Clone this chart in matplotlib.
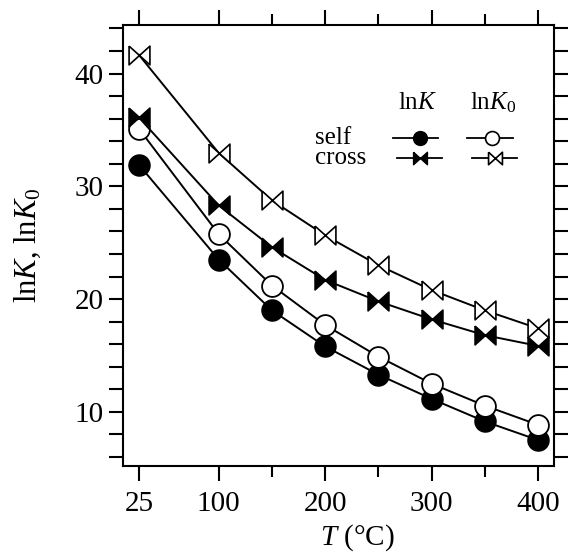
import numpy as np
import matplotlib

matplotlib.use("Agg")
import matplotlib.pyplot as plt
from matplotlib.ticker import FixedLocator, MultipleLocator


# ----------------------------------------------------------------------
# Daten
# ----------------------------------------------------------------------

T = [25, 100, 150, 200, 250, 300, 350, 400]

lnK_self = [31.9, 23.5, 19.0, 15.8, 13.3, 11.15, 9.15, 7.5]
lnK0_self = [35.1, 25.75, 21.2, 17.7, 14.9, 12.5, 10.55, 8.85]
lnK_cross = [36.1, 28.3, 24.6, 21.7, 19.8, 18.2, 16.8, 15.85]
lnK0_cross = [41.65, 32.95, 28.75, 25.65, 23.0, 20.8, 19.0, 17.4]

xticks_major = [25, 100, 200, 300, 400]
xticks_minor = [150, 250, 350]

# Schleifen-Marker (zwei Dreiecke, Spitze an Spitze)
BOWTIE = [(-1, 0.9), (1, -0.9), (1, 0.9), (-1, -0.9), (-1, 0.9)]

plt.rcParams["font.family"] = "Liberation Serif"
plt.rcParams["mathtext.fontset"] = "custom"
plt.rcParams["mathtext.rm"] = "Liberation Serif"
plt.rcParams["mathtext.it"] = "Liberation Serif:italic"

fig = plt.figure(figsize=(5.68, 5.52), dpi=100)
ax = fig.add_axes([0.2165, 0.1558, 0.7588, 0.7989])

lw = 1.4
ms = 15
ax.plot(T, lnK_self, "-o", color="black", lw=lw, ms=ms,
        mfc="black", mec="black", mew=1.2, zorder=3)
ax.plot(T, lnK0_self, "-o", color="black", lw=lw, ms=ms,
        mfc="white", mec="black", mew=1.3, zorder=3)
ax.plot(T, lnK_cross, "-", color="black", lw=lw, marker=BOWTIE,
        ms=ms, mfc="black", mec="black", mew=1.2, zorder=4)
ax.plot(T, lnK0_cross, "-", color="black", lw=lw, marker=BOWTIE,
        ms=ms, mfc="white", mec="black", mew=1.2, zorder=4)

ax.set_xlim(10, 415)
ax.set_ylim(5.2, 44.3)

ax.xaxis.set_major_locator(FixedLocator(xticks_major))
ax.xaxis.set_minor_locator(FixedLocator(xticks_minor))
ax.yaxis.set_major_locator(MultipleLocator(10))
ax.yaxis.set_minor_locator(MultipleLocator(2))

ax.tick_params(which="both", direction="out", top=True, right=True,
               width=1.5, labelsize=21)
ax.tick_params(axis="x", which="major", length=11, pad=7)
ax.tick_params(axis="x", which="minor", length=8)
ax.tick_params(axis="y", which="both", length=10, pad=4)
for s in ax.spines.values():
    s.set_linewidth(1.5)

ax.set_xlabel(r"$T$ (°C)", fontsize=21)
ax.xaxis.set_label_coords(0.543, -0.128)
ax.set_ylabel(r"$\mathrm{ln}K$, $\mathrm{ln}K_0$", fontsize=22)
ax.yaxis.set_label_coords(-0.185, 0.5)

# Legende von Hand (Zeilen: self/cross, Spalten: lnK/lnK0)
ax.text(0.445, 0.744, "self", fontsize=18, ha="left", va="center",
        transform=ax.transAxes)
ax.text(0.445, 0.698, "cross", fontsize=18, ha="left", va="center",
        transform=ax.transAxes)
ax.text(0.684, 0.823, r"$\mathrm{ln}K$", fontsize=18, ha="center",
        va="center", transform=ax.transAxes)
ax.text(0.858, 0.823, r"$\mathrm{ln}K_0$", fontsize=18, ha="center",
        va="center", transform=ax.transAxes)

lms = 10
llw = 1.3
ax.plot([0.626, 0.730], [0.744, 0.744], color="black", lw=llw,
        transform=ax.transAxes, clip_on=False)
ax.plot([0.690], [0.744], "o", color="black", ms=lms,
        transform=ax.transAxes, clip_on=False)
ax.plot([0.798, 0.905], [0.744, 0.744], color="black", lw=llw,
        transform=ax.transAxes, clip_on=False)
ax.plot([0.856], [0.744], "o", mfc="white", mec="black", ms=lms,
        mew=1.2, transform=ax.transAxes, clip_on=False)
ax.plot([0.636, 0.741], [0.698, 0.698], color="black", lw=llw,
        transform=ax.transAxes, clip_on=False)
ax.plot([0.689], [0.698], marker=BOWTIE, color="black", ms=lms,
        transform=ax.transAxes, clip_on=False)
ax.plot([0.810, 0.914], [0.698, 0.698], color="black", lw=llw,
        transform=ax.transAxes, clip_on=False)
ax.plot([0.863], [0.698], marker=BOWTIE, mfc="white", mec="black",
        ms=lms, mew=1.2, transform=ax.transAxes, clip_on=False)

fig.savefig("out.png", dpi=100)
